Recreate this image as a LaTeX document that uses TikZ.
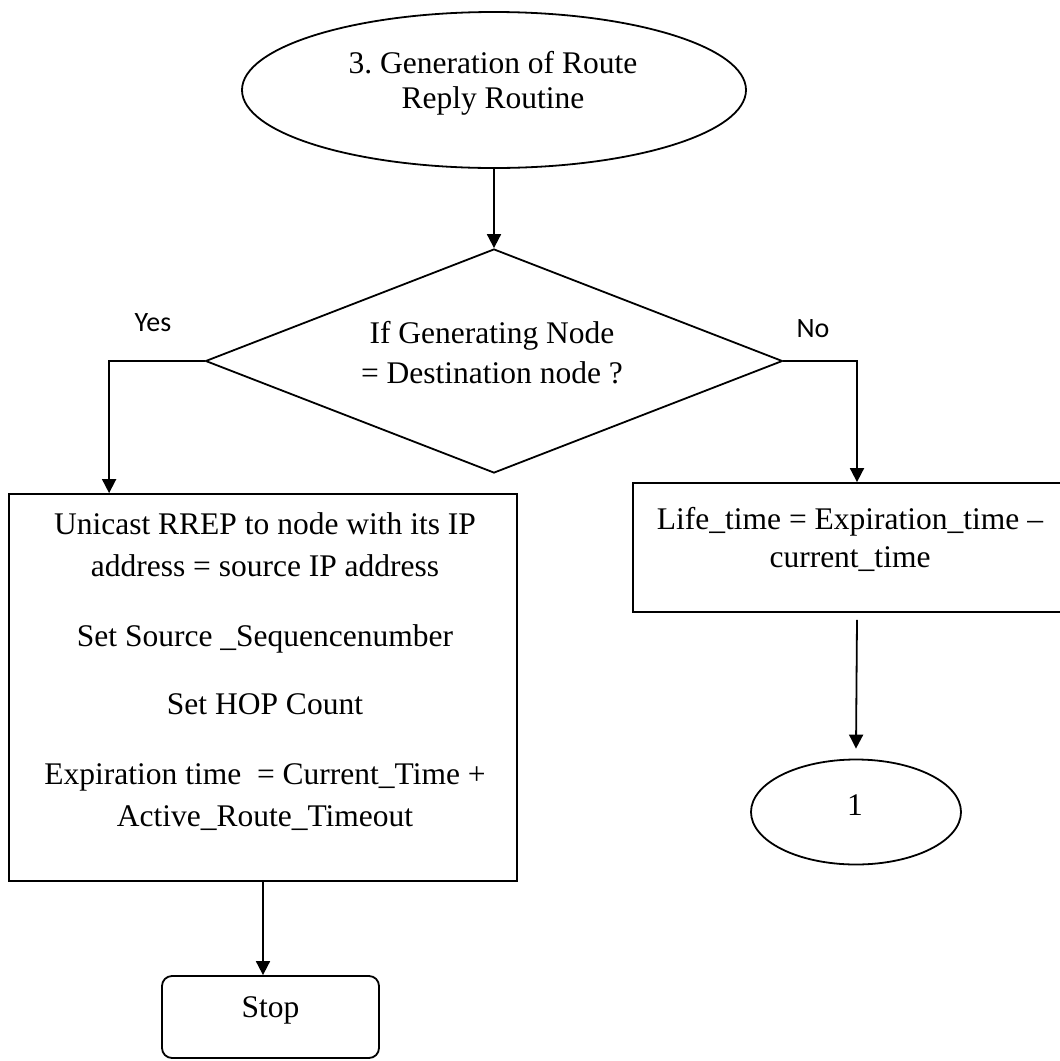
\documentclass[tikz,border=0pt]{standalone}
\usepackage{fontspec}
\setmainfont{Liberation Serif}
\newfontfamily\labelfont{Carlito}
\usetikzlibrary{shapes.geometric,arrows.meta,calc}
\frenchspacing
\begin{document}
\begin{tikzpicture}[x=1pt,y=-1pt,
  outline/.style={draw, line width=1.8pt, inner sep=0pt},
  txt/.style={inner sep=0pt, align=center, font=\fontsize{31.5}{35}\selectfont},
  arr/.style={line width=1.8pt, -{Triangle[width=14pt,length=14pt]}},
  branch/.style={font=\labelfont\fontsize{28}{32}\selectfont, inner sep=0pt}]
\useasboundingbox (0,0) rectangle (1060,1061);
\clip (0,0) rectangle (1060,1061);

% shapes
\node[outline, ellipse, minimum width=504pt, minimum height=156pt] (start) at (494,90) {};
\node[outline, diamond, aspect=2.576, minimum width=577pt, minimum height=224pt] (dec) at (494,361) {};
\node[outline, minimum width=508pt, minimum height=387pt] (act) at (263,687.5) {};
\node[outline, minimum width=448pt, minimum height=129pt] (life) at (857,547.5) {};
\node[outline, ellipse, minimum width=210pt, minimum height=105pt] (one) at (856,812) {};
\node[outline, rounded corners=10pt, minimum width=217pt, minimum height=82pt] (stop) at (270.5,1017) {};

% texts
\node[txt] (starttxt) at (493,83) {3. Generation of Route\\Reply Routine};
\node[txt, font=\fontsize{31.5}{40}\selectfont] (dectxt) at (492,353) {If Generating Node\\= Destination node ?};
\node[txt, font=\fontsize{31.5}{42}\selectfont] (acttxt) at (265,672)
  {Unicast RREP to node with its IP\\address = source IP address\\[28pt]
   Set Source \_Sequencenumber\\[26pt]Set HOP Count\\[28pt]
   Expiration time\ \ = Current\_Time +\\Active\_Route\_Timeout};
\node[txt, font=\fontsize{31.5}{38}\selectfont] (lifetxt) at (850,539) {Life\_time = Expiration\_time –\\current\_time};
\node[txt] (onetxt) at (855,805) {1};
\node[txt] (stoptxt) at (270.5,1010) {Stop};

\node[branch] (yes) at (153,323) {Yes};
\node[branch] (no) at (813,329) {No};

% connectors
\draw[arr] (start.south) -- (dec.north);
\draw[arr] (dec.west) -| ([xshift=101pt]act.north west);
\draw[arr] (dec.east) -| (life.north);
\draw[arr] ([yshift=-7pt]life.south) -- ([yshift=10pt]one.north);
\draw[arr] (act.south) -- (act.south |- stop.north);
\end{tikzpicture}
\end{document}
